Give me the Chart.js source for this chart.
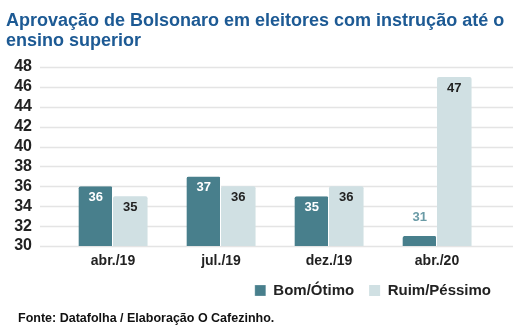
<!DOCTYPE html>
<html>
<head>
<meta charset="utf-8">
<script src="https://cdn.jsdelivr.net/npm/chart.js@4"></script>
<style>
  body { margin: 0; background: #fff; }
  #wrap { position: relative; width: 524px; height: 328px; }
  #title { position: absolute; left: 6px; top: 10px; font: bold 18px "Liberation Sans", Arial, sans-serif; color: #1d5a94; line-height: 20px; }
  #source { position: absolute; left: 18px; top: 311px; font: bold 12.5px "Liberation Sans", Arial, sans-serif; color: #111; }
</style>
</head>
<body>
<div id="wrap">
  <canvas id="chart" width="524" height="328"></canvas>
  <div id="title">Aprovação de Bolsonaro em eleitores com instrução até o<br>ensino superior</div>
  <div id="source">Fonte: Datafolha / Elaboração O Cafezinho.</div>
</div>
<script>
// data
const periods = ["abr./19", "jul./19", "dez./19", "abr./20"];
const bomOtimo = [36, 37, 35, 31];
const ruimPessimo = [35, 36, 36, 47];
const yTicks = [30, 32, 34, 36, 38, 40, 42, 44, 46, 48];

const TEAL = "#487f8c";
const LIGHT = "#d0e0e3";

// grid lines a bit wider than the bars area
const gridPlugin = {
  id: "wideGrid",
  beforeDatasetsDraw(chart) {
    const { ctx, chartArea, scales } = chart;
    ctx.save();
    ctx.strokeStyle = "#e4e4e4";
    ctx.lineWidth = 1.5;
    yTicks.forEach(v => {
      const y = Math.round(scales.y.getPixelForValue(v)) + 0.5;
      ctx.beginPath();
      ctx.moveTo(chartArea.left - 19, y);
      ctx.lineTo(chartArea.right + 22, y);
      ctx.stroke();
    });
    ctx.restore();
  }
};

// value labels on the bars
const valuePlugin = {
  id: "values",
  afterDatasetsDraw(chart) {
    const { ctx, chartArea } = chart;
    ctx.save();
    ctx.font = "bold 13px 'Liberation Sans', Arial, sans-serif";
    ctx.textAlign = "center";
    ctx.textBaseline = "middle";
    chart.data.datasets.forEach((ds, di) => {
      chart.getDatasetMeta(di).data.forEach((bar, i) => {
        const h = Math.min(bar.base, chartArea.bottom) - bar.y;
        let y, color;
        if (h > 22) {
          y = bar.y + 11;
          color = di === 0 ? "#ffffff" : "#222222";
        } else {
          y = bar.y - 19;
          color = di === 0 ? "#6a9ba6" : "#222222";
        }
        ctx.fillStyle = color;
        ctx.fillText(ds.data[i], bar.x, y);
      });
    });
    ctx.restore();
  }
};

new Chart(document.getElementById("chart"), {
  type: "bar",
  data: {
    labels: periods,
    datasets: [
      { label: "Bom/Ótimo", data: bomOtimo, backgroundColor: TEAL,
        borderColor: "#fff", borderWidth: { right: 1 }, borderSkipped: "bottom", borderRadius: 2 },
      { label: "Ruim/Péssimo", data: ruimPessimo, backgroundColor: LIGHT,
        borderRadius: 2, borderSkipped: "bottom" }
    ]
  },
  options: {
    responsive: false,
    animation: false,
    layout: { padding: { top: 67, left: 12, right: 18, bottom: 20 } },
    datasets: { bar: { categoryPercentage: 0.64, barPercentage: 1 } },
    plugins: {
      legend: {
        position: "bottom",
        align: "end",
        labels: {
          boxWidth: 11, boxHeight: 11, padding: 15,
          color: "#222",
          font: { family: "'Liberation Sans', Arial, sans-serif", size: 15, weight: "bold" }
        }
      },
      tooltip: { enabled: false }
    },
    scales: {
      x: {
        grid: { display: false },
        border: { display: false },
        ticks: {
          color: "#222",
          padding: 0,
          font: { family: "'Liberation Sans', Arial, sans-serif", size: 14, weight: "bold", lineHeight: 1 }
        }
      },
      y: {
        min: 30,
        max: 48,
        grid: { display: false, drawTicks: false },
        border: { display: false },
        afterFit: s => { s.width = 47; },
        ticks: {
          stepSize: 2,
          autoSkip: false,
          padding: 27,
          color: "#222",
          font: { family: "'Liberation Sans', Arial, sans-serif", size: 16, weight: "bold" }
        }
      },
      // empty axis on the right, only to keep the bars off the right edge
      yRight: {
        position: "right",
        grid: { display: false, drawTicks: false },
        border: { display: false },
        ticks: { display: false },
        afterFit: s => { s.width = 15; }
      }
    }
  },
  plugins: [gridPlugin, valuePlugin]
});
</script>
</body>
</html>
